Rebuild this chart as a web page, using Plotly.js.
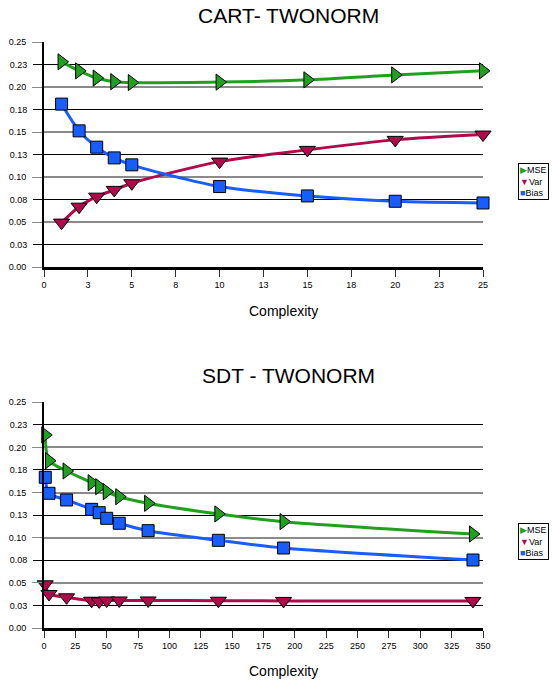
<!DOCTYPE html>
<html>
<head>
<meta charset="utf-8">
<script src="https://cdn.plot.ly/plotly-3.0.1.min.js"></script>
<style>html,body{margin:0;padding:0;background:#fff;}#chart{width:552px;height:682px;}</style>
</head>
<body>
<div id="chart"></div>
<script>
// ---- data ----
const seriesNames = ['MSE', 'Var', 'Bias'];

const cartX    = [1, 2, 3, 4, 5, 10, 15, 20, 25];
const cartMSE  = [0.228, 0.218, 0.210, 0.206, 0.205, 0.2055, 0.208, 0.2135, 0.218];
const cartVar  = [0.0496, 0.0673, 0.0784, 0.0859, 0.0933, 0.1173, 0.1303, 0.1414, 0.1473];
const cartBias = [0.1811, 0.1514, 0.1333, 0.1214, 0.1137, 0.0896, 0.0792, 0.0733, 0.0714];

const sdtX    = [1, 4, 18, 38, 44, 50, 60, 83, 139, 191, 342];
const sdtMSE  = [0.2138, 0.1853, 0.1739, 0.1609, 0.1565, 0.1510, 0.1454, 0.1381, 0.1263, 0.1178, 0.1041];
const sdtVar  = [0.0484, 0.0377, 0.0340, 0.0302, 0.0295, 0.0305, 0.0305, 0.0305, 0.0302, 0.0300, 0.0300];
const sdtBias = [0.1669, 0.1492, 0.1418, 0.1314, 0.1277, 0.1215, 0.1160, 0.1078, 0.0971, 0.0886, 0.0753];

const yTickVals = [0, 0.025, 0.05, 0.075, 0.10, 0.125, 0.15, 0.175, 0.20, 0.225, 0.25];
const yTickText = ['0.00','0.03','0.05','0.08','0.10','0.13','0.15','0.18','0.20','0.23','0.25'];
const cartTickVals = [0, 2.5, 5, 7.5, 10, 12.5, 15, 17.5, 20, 22.5, 25];
const cartTickText = ['0','3','5','8','10','13','15','18','20','23','25'];
const sdtTickVals = [0, 25, 50, 75, 100, 125, 150, 175, 200, 225, 250, 275, 300, 325, 350];
const sdtTickText = ['0','25','50','75','100','125','150','175','200','225','250','275','300','325','350'];

const titles = ['CART- TWONORM', 'SDT - TWONORM'];
const xTitle = 'Complexity';

// ---- styles ----
const FONT = 'Liberation Sans, Arial, Helvetica, sans-serif';
const colors = {MSE: '#1fa01f', Var: '#b00a4c', Bias: '#175dff'};
const symbols = {MSE: 'triangle-right', Var: 'triangle-down', Bias: 'square'};
const sizes = {MSE: 14, Var: 14, Bias: 12};

function mk(x, y, name, xa, ya) {
  return {
    type: 'scatter', mode: 'lines+markers', x: x, y: y, name: name,
    xaxis: xa, yaxis: ya, showlegend: false, cliponaxis: false,
    line: {color: colors[name], width: 3, shape: 'spline', smoothing: 0.8},
    marker: {symbol: symbols[name], size: sizes[name], color: colors[name],
             line: {color: '#000', width: 1}}
  };
}

// MSE traces live on the overlaid y axes (same 0..0.25 range) that carry the odd ticks
const traces = [
  mk(cartX, cartVar, 'Var', 'x', 'y'),
  mk(cartX, cartBias, 'Bias', 'x', 'y'),
  mk(cartX, cartMSE, 'MSE', 'x', 'y3'),
  mk(sdtX, sdtVar, 'Var', 'x2', 'y2'),
  mk(sdtX, sdtBias, 'Bias', 'x2', 'y2'),
  mk(sdtX, sdtMSE, 'MSE', 'x2', 'y4')
];

const evenIdx = yTickVals.map((v, i) => i).filter(i => i % 2 === 0);
const oddIdx  = yTickVals.map((v, i) => i).filter(i => i % 2 === 1);
const tickFont = {family: FONT, size: 9, color: '#000'};

function xAxis(vals, text, range, yref) {
  return {
    anchor: yref, domain: [0, 1], range: range, tickmode: 'array',
    tickvals: vals, ticktext: text, showgrid: false, zeroline: false,
    showline: true, linecolor: '#000', linewidth: 3,
    ticks: 'outside', ticklen: 7, tickwidth: 1, tickcolor: '#333',
    tickfont: tickFont
  };
}
function yAxisMain(domain, xref) {
  return {
    anchor: xref, domain: domain, range: [0, 0.25], tickmode: 'array',
    tickvals: evenIdx.map(i => yTickVals[i]), ticktext: evenIdx.map(i => yTickText[i]),
    showgrid: true, gridcolor: '#8a8a8a', gridwidth: 2, zeroline: false,
    showline: true, linecolor: '#000', linewidth: 2,
    ticks: 'outside', ticklen: 10, tickwidth: 1, tickcolor: '#888',
    tickfont: tickFont, ticklabelstandoff: 4
  };
}
function yAxisOdd(over, xref) {
  return {
    anchor: xref, overlaying: over, side: 'left', range: [0, 0.25], tickmode: 'array',
    tickvals: oddIdx.map(i => yTickVals[i]), ticktext: oddIdx.map(i => yTickText[i]),
    showgrid: true, gridcolor: '#000', gridwidth: 1, zeroline: false,
    showline: false, ticks: 'outside', ticklen: 10, tickwidth: 1, tickcolor: '#000',
    tickfont: tickFont, ticklabelstandoff: 4
  };
}

function legendText() {
  return seriesNames.map(n => '<span style="color:' + colors[n] + '">' +
    (n === 'MSE' ? '\u25B6' : n === 'Var' ? '\u25BC' : '\u25A0') + '</span>' + n).join('<br>');
}

const layout = {
  width: 552, height: 682,
  margin: {l: 44, r: 69, t: 42, b: 54},
  paper_bgcolor: '#fff', plot_bgcolor: '#fff',
  font: {family: FONT, color: '#000'},
  showlegend: false,
  xaxis: xAxis(cartTickVals, cartTickText, [0, 25], 'y'),
  yaxis: yAxisMain([0.6155, 1], 'x'),
  yaxis3: yAxisOdd('y', 'x'),
  xaxis2: xAxis(sdtTickVals, sdtTickText, [0, 350], 'y2'),
  yaxis2: yAxisMain([0, 0.3852], 'x2'),
  yaxis4: yAxisOdd('y2', 'x2'),
  annotations: [
    {text: titles[0], xref: 'paper', yref: 'paper', x: 0.5574, y: 1.0447,
     xanchor: 'center', yanchor: 'middle', showarrow: false, font: {family: FONT, size: 21}},
    {text: titles[1], xref: 'paper', yref: 'paper', x: 0.5574, y: 0.4309,
     xanchor: 'center', yanchor: 'middle', showarrow: false, font: {family: FONT, size: 21}},
    {text: xTitle, xref: 'paper', yref: 'paper', x: 0.5451, y: 0.5418,
     xanchor: 'center', yanchor: 'middle', showarrow: false, font: {family: FONT, size: 14}},
    {text: xTitle, xref: 'paper', yref: 'paper', x: 0.5451, y: -0.0737,
     xanchor: 'center', yanchor: 'middle', showarrow: false, font: {family: FONT, size: 14}},
    {text: legendText(), xref: 'paper', yref: 'paper', x: 1.080, y: 0.7935,
     xanchor: 'left', yanchor: 'top', align: 'left', showarrow: false,
     bordercolor: '#000', borderwidth: 1, borderpad: 1, bgcolor: '#fff',
     font: {family: FONT, size: 9}},
    {text: legendText(), xref: 'paper', yref: 'paper', x: 1.080, y: 0.1790,
     xanchor: 'left', yanchor: 'top', align: 'left', showarrow: false,
     bordercolor: '#000', borderwidth: 1, borderpad: 1, bgcolor: '#fff',
     font: {family: FONT, size: 9}}
  ]
};

Plotly.newPlot('chart', traces, layout, {displayModeBar: false, staticPlot: true});
</script>
</body>
</html>
